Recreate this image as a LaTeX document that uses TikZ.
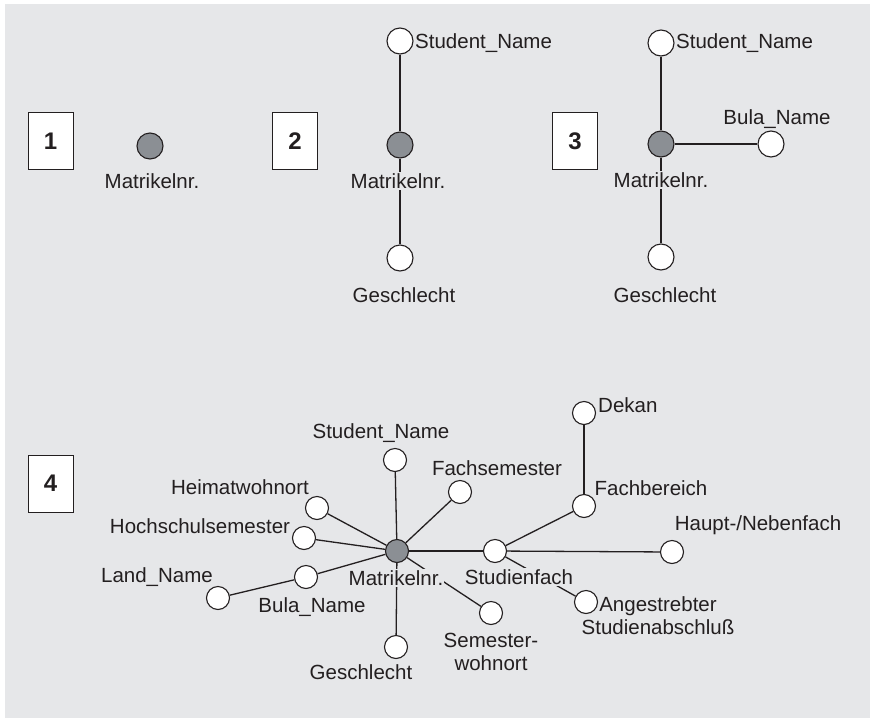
\documentclass[tikz,border=0pt]{standalone}
\usepackage{fontspec}
\setmainfont{Liberation Sans}
\definecolor{panelbg}{HTML}{E6E7E9}
\definecolor{keygray}{HTML}{8B8F94}
\definecolor{ink}{HTML}{231F20}
\pgfdeclarelayer{bglayer}
\pgfdeclarelayer{edgelayer}
\pgfdeclarelayer{labellayer}
\pgfsetlayers{bglayer,edgelayer,labellayer,main}
\tikzset{
  attr/.style={circle, draw=ink, line width=1.1pt, fill=white, inner sep=0pt, minimum size=23pt},
  bigattr/.style={attr, minimum size=26pt},
  keyattr/.style={fill=keygray},
  lbl/.style={inner sep=1pt, fill=panelbg, text=ink, font=\fontsize{20.5}{23}\selectfont, align=center},
  numbox/.style={draw=ink, line width=0.9pt, fill=white, minimum width=45pt, minimum height=57pt, inner sep=0pt,
                 text=ink, font=\fontsize{24}{28}\selectfont\bfseries},
  link/.style={draw=ink, line width=1.3pt},
}
\begin{document}
\begin{tikzpicture}[x=1pt, y=-1pt]
\useasboundingbox (0,0) rectangle (870,718);
\begin{pgfonlayer}{bglayer}
  \fill[white] (0,0) rectangle (870,718);
  \fill[panelbg] (5,4) rectangle (870,718);
\end{pgfonlayer}

% --- step 1
\node[numbox] (n1) at (50.5,141) {1};
\node[bigattr, keyattr] (m1) at (150,146) {};

% --- step 2
\node[numbox] (n2) at (295,141) {2};
\node[bigattr] (s2) at (400,41) {};
\node[bigattr, keyattr] (m2) at (400,145) {};
\node[bigattr] (g2) at (400,258) {};

% --- step 3
\node[numbox] (n3) at (575,141) {3};
\node[bigattr] (s3) at (661,43) {};
\node[bigattr, keyattr] (m3) at (661,144) {};
\node[bigattr] (b3) at (771,144) {};
\node[bigattr] (g3) at (661,257) {};

% --- step 4
\node[numbox] (n4) at (50.5,483.5) {4};
\node[attr, keyattr] (m4) at (397,551) {};
\node[attr] (sn) at (395,460) {};
\node[attr] (hw) at (317,508) {};
\node[attr] (hs) at (304,538) {};
\node[attr] (bn) at (306,577) {};
\node[attr] (ln) at (218,598) {};
\node[attr] (ge) at (396,647) {};
\node[attr] (fs) at (460,492) {};
\node[attr] (sf) at (495,551) {};
\node[attr] (fb) at (584,506) {};
\node[attr] (dk) at (584,413) {};
\node[attr] (hn) at (672,552) {};
\node[attr] (as) at (586,602) {};
\node[attr] (sw) at (491,613) {};

% labels sit above the links (their fill breaks a link) and below the circles
\begin{pgfonlayer}{labellayer}
  \node[lbl] (m1l) at (152,181) {Matrikelnr.};
  \node[lbl, anchor=west] (s2l) at (414,43) {Student\_Name};
  \node[lbl] (m2l) at (398,181) {Matrikelnr.};
  \node[lbl] (g2l) at (404,295) {Geschlecht};
  \node[lbl, anchor=west] (s3l) at (675,43) {Student\_Name};
  \node[lbl] (m3l) at (661,180) {Matrikelnr.};
  \node[lbl] (b3l) at (777,119) {Bula\_Name};
  \node[lbl] (g3l) at (665,295) {Geschlecht};

  \node[lbl] (m4l) at (396,578) {Matrikelnr.};
  \node[lbl] (snl) at (381,433) {Student\_Name};
  \node[lbl] (hwl) at (240,487) {Heimatwohnort};
  \node[lbl] (hsl) at (200,526) {Hochschulsemester};
  \node[lbl] (lnl) at (157,577) {Land\_Name};
  \node[lbl] (bnl) at (312,607) {Bula\_Name};
  \node[lbl] (gel) at (361,672) {Geschlecht};
  \node[lbl] (fsl) at (497,468) {Fachsemester};
  \node[lbl] (sfl) at (519,577) {Studienfach};
  \node[lbl] (fbl) at (651,488) {Fachbereich};
  \node[lbl, anchor=west] (dkl) at (597,405) {Dekan};
  \node[lbl] (hnl) at (758,525) {Haupt-/Nebenfach};
  \node[lbl, inner sep=0pt] (asl) at (658,616) {Angestrebter\\Studienabschluß};
  \node[lbl, inner sep=0pt] (swl) at (491,652) {Semester-\\wohnort};
\end{pgfonlayer}

\begin{pgfonlayer}{edgelayer}
  \draw[link] (s2) -- (m2);
  \draw[link] (m2) -- (g2);
  \draw[link] (s3) -- (m3);
  \draw[link] (m3) -- (g3);
  \draw[link] (m3) -- (b3);
  \draw[link] (m4) -- (sn);
  \draw[link] (m4) -- (hw);
  \draw[link] (m4) -- (hs);
  \draw[link] (m4) -- (bn);
  \draw[link] (bn) -- (ln);
  \draw[link] (m4) -- (ge);
  \draw[link] (m4) -- (fs);
  \draw[link] (m4) -- (sf);
  \draw[link] (m4) -- (sw);
  \draw[link] (sf) -- (fb);
  \draw[link] (fb) -- (dk);
  \draw[link] (sf) -- (hn);
  \draw[link] (sf) -- (as);
\end{pgfonlayer}
\end{tikzpicture}
\end{document}
